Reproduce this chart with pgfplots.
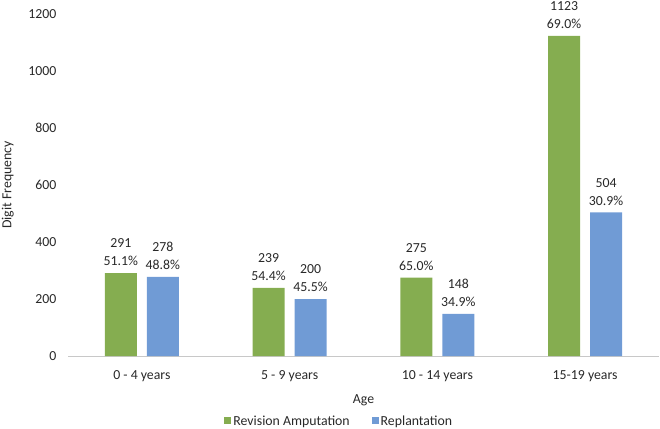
\documentclass[border=0pt]{standalone}
\usepackage{fontspec}
\setmainfont{Carlito}
\usepackage{pgfplots}
\pgfplotsset{compat=1.18}
\definecolor{revgreen}{RGB}{133,173,80}
\definecolor{repblue}{RGB}{112,155,213}
\definecolor{axgray}{RGB}{200,200,200}
\definecolor{txt}{RGB}{40,40,40}
\begin{document}
\begin{tikzpicture}
\path[use as bounding box] (0,0) rectangle (660pt,428pt);
\begin{axis}[
  at={(68pt,72pt)}, anchor=south west,
  scale only axis, width=591pt, height=342pt,
  ymin=0, ymax=1200, ytick={0,200,...,1200},
  xmin=-0.5, xmax=3.5,
  xtick={0,1,2,3},
  xticklabels={0 - 4 years, 5 - 9 years, 10 - 14 years, 15-19 years},
  axis line style={draw=none},
  axis x line*=bottom, axis y line*=left,
  x axis line style={draw=axgray, line width=0.8pt},
  major tick length=0pt,
  tick label style={font=\fontsize{13.8}{16}\selectfont, text=txt},
  yticklabel style={xshift=-8pt},
  xticklabel style={yshift=-11pt},
  /pgf/number format/assume math mode=true,
  /pgf/number format/1000 sep={},
  xlabel={Age}, ylabel={Digit Frequency},
  label style={font=\fontsize{13.8}{16}\selectfont, text=txt},
  xlabel style={yshift=-6pt},
  ylabel style={yshift=8pt},
  ybar, bar width=32pt,
  nodes near coords={\pgfplotspointmeta},
  point meta=explicit symbolic,
  every node near coord/.append style={align=center, font=\fontsize{13.8}{18}\selectfont, text=txt, inner sep=1pt, yshift=6pt},
  legend style={at={(0.459,-0.19)}, anchor=center, draw=none, fill=none, legend columns=2,
    font=\fontsize{13.8}{16}\selectfont, text=txt,
    /tikz/every even column/.append style={column sep=20pt}},
  legend image code/.code={\fill[#1] (0pt,-3.5pt) rectangle (7pt,3.5pt);},
]
\addplot[fill=revgreen, draw=none, bar shift=-21pt] coordinates {
  (0,291) [{291\\51.1\%}]
  (1,239) [{239\\54.4\%}]
  (2,275) [{275\\65.0\%}]
  (3,1123) [{1123\\69.0\%}]
};
\addplot[fill=repblue, draw=none, bar shift=21pt] coordinates {
  (0,278) [{278\\48.8\%}]
  (1,200) [{200\\45.5\%}]
  (2,148) [{148\\34.9\%}]
  (3,504) [{504\\30.9\%}]
};
\legend{Revision Amputation, Replantation}
\end{axis}
\end{tikzpicture}
\end{document}
